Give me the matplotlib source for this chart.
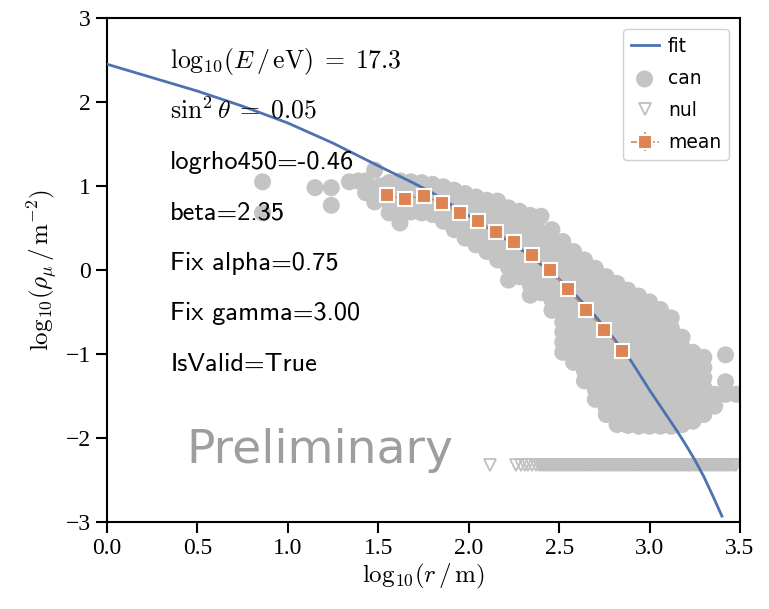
import numpy as np
import matplotlib
matplotlib.use('Agg')
import matplotlib.pyplot as plt

plt.rcParams['font.family'] = ['Liberation Serif', 'DejaVu Serif']
plt.rcParams['mathtext.fontset'] = 'cm'
plt.rcParams['axes.unicode_minus'] = True

#%% Datos

# Ajuste (linea azul)
fit_x = [0.0, 0.25, 0.5, 0.75, 1.0, 1.25, 1.5, 1.69, 1.79, 1.88, 1.99,
         2.10, 2.21, 2.32, 2.41, 2.5, 2.6, 2.7, 2.8, 2.9, 2.95, 3.0, 3.05,
         3.1, 3.15, 3.2, 3.25, 3.3, 3.35, 3.4]
fit_y = [2.45, 2.29, 2.13, 1.95, 1.75, 1.51, 1.24, 1.04, 0.93, 0.81, 0.66,
         0.51, 0.36, 0.20, 0.05, -0.11, -0.32, -0.55, -0.81, -1.09, -1.26,
         -1.43, -1.59, -1.75, -1.91, -2.08, -2.26, -2.46, -2.69, -2.93]

# Candidatos: columnas (x, lista de y)
can_cols = [
    (0.86, [1.05, 0.68]),
    (1.15, [0.98]),
    (1.24, [0.98, 0.77]),
    (1.34, [1.05]),
    (1.39, [1.06]),
    (1.43, [1.06, 0.92]),
    (1.48, [1.19, 0.81]),
    (1.51, [1.00, 0.90]),
    (1.56, [1.04, 0.92, 0.80, 0.68]),
    (1.62, [1.06, 0.94, 0.82, 0.70, 0.56]),
    (1.68, [1.05, 0.93, 0.81, 0.69]),
    (1.74, [1.04, 0.92, 0.80, 0.68]),
    (1.80, [1.02, 0.90, 0.78, 0.66]),
    (1.86, [0.99, 0.87, 0.75, 0.63, 0.58]),
    (1.92, [0.95, 0.83, 0.71, 0.59, 0.48]),
    (1.98, [0.91, 0.79, 0.67, 0.55, 0.43, 0.38]),
    (2.04, [0.87, 0.75, 0.63, 0.51, 0.39, 0.30]),
    (2.10, [0.83, 0.71, 0.59, 0.47, 0.35, 0.22]),
    (2.16, [0.82, 0.68, 0.56, 0.44, 0.32, 0.20, 0.12]),
    (2.22, [0.74, 0.62, 0.50, 0.38, 0.26, 0.14, 0.03, -0.12]),
    (2.28, [0.70, 0.58, 0.46, 0.34, 0.22, 0.10, -0.02, -0.08]),
    (2.34, [0.65, 0.53, 0.41, 0.29, 0.17, 0.05, -0.07, -0.18, -0.30]),
    (2.40, [0.64, 0.45, 0.33, 0.21, 0.09, -0.03, -0.15, -0.27]),
    (2.46, [0.48, 0.36, 0.24, 0.12, 0.00, -0.12, -0.24, -0.36, -0.48]),
    (2.52, [0.34, 0.22, 0.10, -0.02, -0.14, -0.26, -0.38, -0.50, -0.62,
            -0.74, -0.86, -0.98]),
    (2.58, [0.22, 0.10, -0.02, -0.14, -0.26, -0.38, -0.50, -0.62, -0.74,
            -0.86, -0.98, -1.10]),
    (2.64, [0.12, 0.00, -0.12, -0.24, -0.36, -0.48, -0.60, -0.72, -0.84,
            -0.96, -1.08, -1.20, -1.32]),
    (2.70, [0.02, -0.10, -0.22, -0.34, -0.46, -0.58, -0.70, -0.82, -0.94,
            -1.06, -1.18, -1.30, -1.42, -1.54]),
    (2.76, [-0.08, -0.20, -0.32, -0.44, -0.56, -0.68, -0.80, -0.92, -1.04,
            -1.16, -1.28, -1.40, -1.52, -1.64, -1.72]),
    (2.82, [-0.16, -0.28, -0.40, -0.52, -0.64, -0.76, -0.88, -1.00, -1.12,
            -1.24, -1.36, -1.48, -1.60, -1.72, -1.84]),
    (2.88, [-0.24, -0.36, -0.48, -0.60, -0.72, -0.84, -0.96, -1.08, -1.20,
            -1.32, -1.44, -1.56, -1.68, -1.80, -1.85]),
    (2.94, [-0.31, -0.43, -0.55, -0.67, -0.79, -0.91, -1.03, -1.15, -1.27,
            -1.39, -1.51, -1.63, -1.75, -1.86]),
    (3.00, [-0.38, -0.50, -0.62, -0.74, -0.86, -0.98, -1.10, -1.22, -1.34,
            -1.46, -1.58, -1.70, -1.82, -1.86]),
    (3.06, [-0.47, -0.59, -0.71, -0.83, -0.95, -1.07, -1.19, -1.31, -1.43,
            -1.55, -1.67, -1.79, -1.86]),
    (3.12, [-0.57, -0.69, -0.81, -0.93, -1.05, -1.17, -1.29, -1.41, -1.53,
            -1.65, -1.77, -1.86]),
    (3.18, [-0.80, -0.92, -1.04, -1.16, -1.28, -1.40, -1.52, -1.64, -1.76,
            -1.84]),
    (3.24, [-0.98, -1.10, -1.22, -1.34, -1.46, -1.58, -1.70, -1.80]),
    (3.30, [-1.04, -1.16, -1.28, -1.40, -1.48, -1.60, -1.72]),
    (3.36, [-1.48, -1.62]),
    (3.42, [-1.01, -1.33, -1.48]),
    (3.48, [-1.48]),
]

# Nulos (triangulos)
nul_x = [2.12, 2.26, 2.29, 2.31, 2.33, 2.35, 2.37, 2.39, 2.40, 2.41, 2.42,
         2.43, 2.44, 2.45, 2.46, 2.47, 2.48, 2.49, 2.50, 2.51, 2.52, 2.53,
         2.54, 2.55, 2.56, 2.57, 2.58, 2.59, 2.60, 2.61, 2.62, 2.63, 2.64,
         2.65, 2.66, 2.67, 2.68, 2.69, 2.70, 2.71, 2.72, 2.73, 2.74, 2.75,
         2.76, 2.77, 2.78, 2.79, 2.80, 2.81, 2.82, 2.83, 2.84, 2.85, 2.86,
         2.87, 2.88, 2.89, 2.90, 2.91, 2.92, 2.93, 2.94, 2.95, 2.96, 2.97,
         2.98, 2.99, 3.00, 3.01, 3.02, 3.03, 3.04, 3.05, 3.06, 3.07, 3.08,
         3.09, 3.10, 3.11, 3.12, 3.13, 3.14, 3.15, 3.16, 3.17, 3.18, 3.19,
         3.20, 3.21, 3.22, 3.23, 3.24, 3.25, 3.26, 3.27, 3.28, 3.29, 3.30,
         3.31, 3.32, 3.33, 3.34, 3.35, 3.36, 3.37, 3.38, 3.39, 3.40, 3.41,
         3.42, 3.43, 3.44, 3.45, 3.46, 3.47, 3.48]
nul_y = [-2.32] * len(nul_x)

# Medias (cuadrados naranjas)
mean_x = [1.55, 1.65, 1.75, 1.85, 1.95, 2.05, 2.15, 2.25, 2.35, 2.45,
          2.55, 2.65, 2.75, 2.85]
mean_y = [0.89, 0.85, 0.88, 0.80, 0.68, 0.58, 0.45, 0.33, 0.18, 0.00,
          -0.23, -0.48, -0.71, -0.96]
mean_err = [0.03, 0.03, 0.03, 0.03, 0.02, 0.02, 0.02, 0.02, 0.02, 0.02,
            0.02, 0.02, 0.02, 0.02]

textos = [r'$\mathrm{log}_{10}(E\,/\,\mathrm{eV})\;=\;17.3$',
          r'$\sin^2\theta\;=\;0.05$',
          'logrho450=-0.46',
          'beta=2.35',
          'Fix alpha=0.75',
          'Fix gamma=3.00',
          'IsValid=True']

#%% Grafico

can_x = []
can_y = []
for xc, ys in can_cols:
    for yc in ys:
        can_x.append(xc)
        can_y.append(yc)

fig = plt.figure(figsize=(7.69, 6.09), dpi=100)
ax = fig.add_axes([107 / 769, 1 - 522 / 609, 633 / 769, 504 / 609])

ax.scatter(can_x, can_y, s=150, color='#c4c4c4', edgecolors='none',
           label='can', zorder=2)
ax.plot(nul_x, nul_y, 'v', ms=9, mfc='none', mec='#c0c0c0', mew=1.3,
        label='nul', zorder=2)
ax.plot(fit_x, fit_y, '-', color='#4c72b0', lw=2, label='fit', zorder=3)
ax.errorbar(mean_x, mean_y, yerr=mean_err, fmt='s--', color='#dd8452',
            ms=9.5, mec='white', mew=1.5, lw=1.2, elinewidth=1.2,
            label='mean', zorder=4)

ax.set_xlim(0, 3.5)
ax.set_ylim(-3, 3)
ax.set_xticks(np.arange(0, 3.51, 0.5))
ax.set_yticks(np.arange(-3, 3.1, 1))
ax.set_xticklabels(['0.0', '0.5', '1.0', '1.5', '2.0', '2.5', '3.0', '3.5'])
ax.tick_params(labelsize=17, length=8, width=1.5, direction='out')
for sp in ax.spines.values():
    sp.set_linewidth(1.5)
ax.set_xlabel(r'$\mathrm{log}_{10}(r\,/\,\mathrm{m})$', fontsize=18,
              labelpad=2)
ax.set_ylabel(r'$\mathrm{log}_{10}(\rho_\mu\,/\,\mathrm{m}^{-2})$',
              fontsize=18, labelpad=4)

for i, t in enumerate(textos):
    if t.startswith('$'):
        ax.text(0.35, 2.4 - 0.6 * i, t, fontsize=18.5, va='baseline')
    else:
        ax.text(0.35, 2.4 - 0.6 * i, t, fontsize=19, va='baseline',
                family=['cmss10', 'DejaVu Sans'])

ax.text(0.44, -2.3, 'Preliminary', fontsize=34, color='#9e9e9e',
        family='DejaVu Sans', va='baseline', zorder=5)

handles, labels = ax.get_legend_handles_labels()
orden = [labels.index(n) for n in ['fit', 'can', 'nul', 'mean']]
ax.legend([handles[k] for k in orden], [labels[k] for k in orden],
          loc='upper right', prop={'family': 'DejaVu Sans', 'size': 13.5},
          handlelength=1.5, handletextpad=0.5, borderpad=0.4,
          labelspacing=0.7, framealpha=1, edgecolor='#d0d0d0',
          borderaxespad=0.6)

fig.savefig('out.png', dpi=100)
